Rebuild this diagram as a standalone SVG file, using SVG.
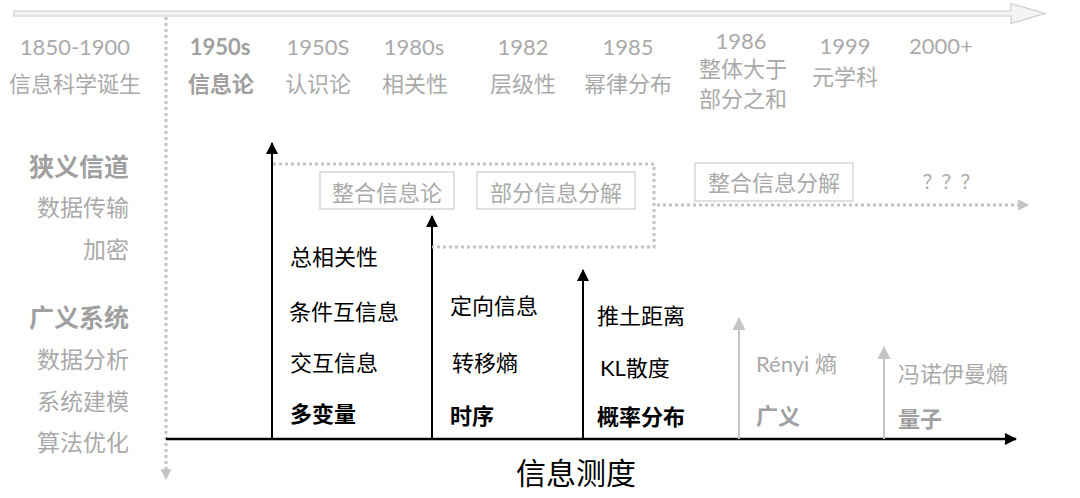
<svg xmlns="http://www.w3.org/2000/svg" width="1080" height="498" viewBox="0 0 1080 498">
<defs>
<style>
text{font-family:"Lato","Noto Sans CJK SC","Noto Sans",sans-serif;}
.g{fill:#aaaaaa;font-size:22px;}
.gb{fill:#a0a0a0;font-size:22px;font-weight:bold;}
.lg{fill:#aaaaaa;font-size:23px;}
.lgb{fill:#a0a0a0;font-size:25px;font-weight:bold;}
.k{fill:#000;font-size:22px;}
.kb{fill:#000;font-size:22px;font-weight:bold;}
.m{text-anchor:middle;}
.e{text-anchor:end;}
.box{fill:#fff;stroke:#cccccc;stroke-width:1.2;}
.dot{fill:none;stroke:#c4c4c4;stroke-width:3;stroke-dasharray:3 3;}
</style>
<marker id="ak" viewBox="0 0 12 12" refX="11" refY="6" markerWidth="12" markerHeight="12" markerUnits="userSpaceOnUse" orient="auto"><path d="M0,0 L12,6 L0,12 Z" fill="#000"/></marker>
<marker id="ag" viewBox="0 0 12 12" refX="11" refY="6" markerWidth="13" markerHeight="13" markerUnits="userSpaceOnUse" orient="auto"><path d="M0,0 L12,6 L0,12 Z" fill="#c4c4c4"/></marker>
<marker id="ad" viewBox="0 0 12 12" refX="2" refY="6" markerWidth="12" markerHeight="11" markerUnits="userSpaceOnUse" orient="auto"><path d="M0,0 L12,6 L0,12 Z" fill="#c4c4c4"/></marker>
</defs>
<rect width="1080" height="498" fill="#fff"/>

<g id="connectors">
<path id="timeline" d="M14,11 H1011 V3.5 L1045,13.5 L1011,23.5 V16 H14 Z" fill="#f4f4f4" stroke="#cccccc" stroke-width="1.2"/>
<line id="divider" x1="166" y1="17" x2="166" y2="471" class="dot" marker-end="url(#ad)"/>
<line id="axis" x1="166" y1="439" x2="1016" y2="439" stroke="#000" stroke-width="2.5" marker-end="url(#ak)"/>
<line x1="272" y1="439" x2="272" y2="143" stroke="#000" stroke-width="2" marker-end="url(#ak)"/>
<line x1="432" y1="439" x2="432" y2="216" stroke="#000" stroke-width="2" marker-end="url(#ak)"/>
<line x1="583" y1="439" x2="583" y2="270" stroke="#000" stroke-width="2" marker-end="url(#ak)"/>
<line x1="739" y1="439" x2="739" y2="318" stroke="#c4c4c4" stroke-width="2" marker-end="url(#ag)"/>
<line x1="884" y1="439" x2="884" y2="347" stroke="#c4c4c4" stroke-width="2" marker-end="url(#ag)"/>
<path d="M273,164 H654 V247 H432" class="dot"/>
<line x1="657" y1="205" x2="1020" y2="205" class="dot" marker-end="url(#ad)"/>
</g>

<g id="eras">
<text class="g m" x="75" y="55">1850-1900</text>
<text class="g m" x="75" y="92">信息科学诞生</text>
<text class="gb m" x="220" y="55">1950s</text>
<text class="gb m" x="221" y="92">信息论</text>
<text class="g m" x="318" y="55">1950S</text>
<text class="g m" x="318" y="92">认识论</text>
<text class="g m" x="414" y="55">1980s</text>
<text class="g m" x="415" y="92">相关性</text>
<text class="g m" x="523" y="55">1982</text>
<text class="g m" x="523" y="92">层级性</text>
<text class="g m" x="628" y="55">1985</text>
<text class="g m" x="628" y="92">幂律分布</text>
<text class="g m" x="741" y="48.5" font-size="21">1986</text>
<text class="g m" x="743" y="77" font-size="20.5">整体大于</text>
<text class="g m" x="743" y="106.5" font-size="20.5">部分之和</text>
<text class="g m" x="845" y="54">1999</text>
<text class="g m" x="845" y="85">元学科</text>
<text class="g m" x="941" y="54">2000+</text>
</g>

<g id="scope">
<text class="lgb e" x="129" y="176">狭义信道</text>
<text class="lg e" x="129" y="216">数据传输</text>
<text class="lg e" x="129" y="258">加密</text>
<text class="lgb e" x="129" y="327">广义系统</text>
<text class="lg e" x="129" y="368">数据分析</text>
<text class="lg e" x="129" y="410">系统建模</text>
<text class="lg e" x="129" y="451">算法优化</text>
</g>

<g id="box-iit">
<rect class="box" x="320" y="172" width="134" height="37"/>
<text class="g m" x="387" y="201">整合信息论</text>
</g>
<g id="box-pid">
<rect class="box" x="477" y="172" width="158" height="37"/>
<text class="g m" x="556" y="201">部分信息分解</text>
</g>
<g id="box-iid">
<rect class="box" x="695" y="163" width="158" height="38"/>
<text class="g m" x="774" y="191">整合信息分解</text>
</g>
<g id="unknown">
<text class="m" x="951" y="189" fill="#aaaaaa" font-size="19">？？？</text>
</g>

<g id="multivariate">
<text class="k" x="290" y="265">总相关性</text>
<text class="k" x="289" y="320">条件互信息</text>
<text class="k" x="290" y="371">交互信息</text>
<text class="kb" x="290" y="422">多变量</text>
</g>
<g id="timeseries">
<text class="k" x="450" y="314">定向信息</text>
<text class="k" x="452" y="371">转移熵</text>
<text class="kb" x="450" y="424">时序</text>
</g>
<g id="distribution">
<text class="k" x="597" y="324">推土距离</text>
<text class="k" x="600" y="376">KL散度</text>
<text class="kb" x="597" y="425">概率分布</text>
</g>
<g id="generalized">
<text class="g" x="756" y="372">Rényi 熵</text>
<text class="gb" x="756" y="424">广义</text>
</g>
<g id="quantum">
<text class="g" x="898" y="382">冯诺伊曼熵</text>
<text class="gb" x="898" y="427">量子</text>
</g>
<g id="axis-label">
<text class="m" x="576" y="484" fill="#000" font-size="30">信息测度</text>
</g>
</svg>
